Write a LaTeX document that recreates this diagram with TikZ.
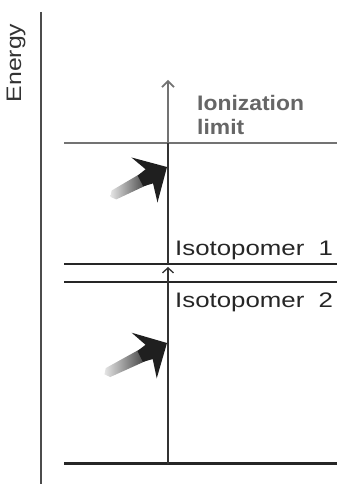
\documentclass[tikz,border=0pt]{standalone}
\usepackage{fontspec}
\setmainfont{Liberation Sans}
\usetikzlibrary{arrows.meta}
\begin{document}
\begin{tikzpicture}[x=1pt,y=1pt,
  level/.style={line width=2.8pt, black!85},
  ionline/.style={line width=2.5pt, black!55},
  axisline/.style={line width=1.8pt, black!70},
  vline/.style={line width=1.1pt, black!80},
  topline/.style={line width=1.6pt, black!55},
  lbl/.style={inner sep=0pt, text=black!85, font=\fontsize{21}{21}\selectfont},
  ionlbl/.style={inner sep=0pt, text=black!60, font=\bfseries\fontsize{21}{24}\selectfont, align=left},
  fuzzy/.style={left color=black!10, right color=black!90},
  headfill/.style={fill=black!88}]
\useasboundingbox (0,0) rectangle (337,484);
% axis
\coordinate (axTop) at (41,472);
\coordinate (axBot) at (41,0);
\draw[axisline] (axTop) -- (axBot);
\node[rotate=90, inner sep=0pt, text=black!80, font=\fontsize{21}{21}\selectfont] (energy) at (16,421) {\scalebox{1.18}[1]{Energy}};
% levels
\coordinate (ionL) at (64,341); \coordinate (ionR) at (337,341);
\coordinate (i1L) at (64,220);  \coordinate (i1R) at (337,220);
\coordinate (i2L) at (64,202);  \coordinate (i2R) at (337,202);
\coordinate (botL) at (64,20);  \coordinate (botR) at (337,20);
\draw[ionline] (ionL) -- (ionR);
\draw[level] (i1L) -- (i1R);
\draw[level] (i2L) -- (i2R);
\draw[level, line width=3pt] (botL) -- (botR);
% vertical transition line
\coordinate (v0) at (168,20);
\coordinate (v2) at (168,202);
\coordinate (v1) at (168,220);
\coordinate (vi) at (168,341);
\coordinate (vtop) at (168,404);
\draw[vline] (v0) -- (v2);
\draw[vline, -{Straight Barb[length=5pt,width=11pt,line width=1.3pt]}, shorten >=3pt] (v2) -- (v1);
\draw[vline] (v1) -- (vi);
\draw[topline, -{Straight Barb[length=6pt,width=12pt,line width=1.6pt]}] (vi) -- (vtop);
% labels
\node[ionlbl, anchor=west] (ion) at (197,369) {\scalebox{1.09}[1]{Ionization}\\\scalebox{1.09}[1]{limit}};
\node[lbl, anchor=west] (iso1) at (175,233.5) {\scalebox{1.23}[1]{Isotopomer\ \ 1}};
\node[lbl, anchor=west] (iso2) at (175,182) {\scalebox{1.23}[1]{Isotopomer\ \ 2}};
% fuzzy photon arrows
\begin{scope}[shift={(167,317)}, rotate=27.8]
  \shade[fuzzy] (-16,7) -- (-60,5) -- (-64,0) -- (-60,-5) -- (-16,-7) -- cycle;
  \fill[headfill] (0,0) -- (-27,25) -- (-20,8) -- (-30,6) -- (-30,-6) -- (-20,-8) -- (-25,-27) -- cycle;
\end{scope}
\begin{scope}[shift={(167,141)}, rotate=26.6]
  \shade[fuzzy] (-16,7) -- (-66,5) -- (-70,0) -- (-66,-5) -- (-16,-7) -- cycle;
  \fill[headfill] (0,0) -- (-27,25) -- (-20,8) -- (-30,6) -- (-30,-6) -- (-20,-8) -- (-25,-27) -- cycle;
\end{scope}
\end{tikzpicture}
\end{document}
